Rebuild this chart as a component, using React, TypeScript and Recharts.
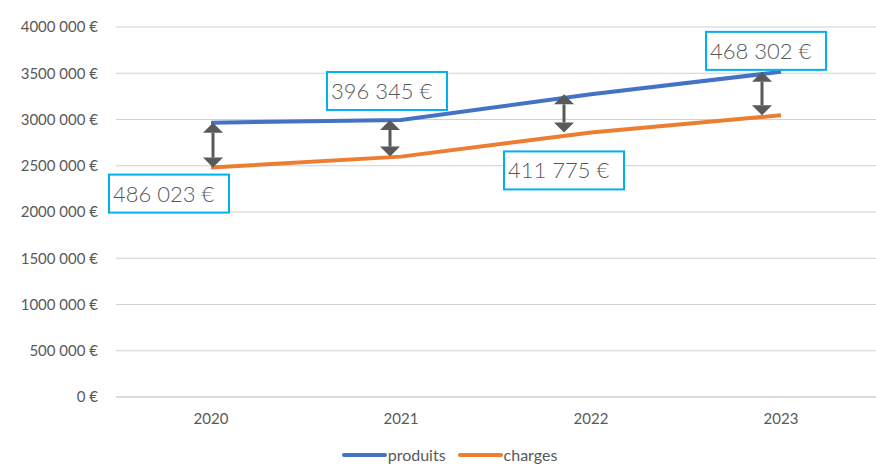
import {
  CartesianGrid,
  Legend,
  Line,
  LineChart,
  ReferenceDot,
  ReferenceLine,
  XAxis,
  YAxis,
} from "recharts";

const years = ["2020", "2021", "2022", "2023"];
const produits = [2966000, 2995000, 3272000, 3515000];
const charges = [2479977, 2598655, 2860225, 3046698];
const ecarts = [486023, 396345, 411775, 468302];
const yTicks = [0, 500000, 1000000, 1500000, 2000000, 2500000, 3000000, 3500000, 4000000];
const seriesOrder = ["produits", "charges"];

const data = years.map((year, i) => ({
  year,
  produits: produits[i],
  charges: charges[i],
}));

const TEXT = "#595959";
const GRID = "#D0D0D0";
const BLUE = "#4472C4";
const ORANGE = "#ED7D31";
const BOX = "#00B0F0";

// hand-placed like in the original workbook: label box side + nudge, arrow nudge
const labelPlacement = [
  { on: "charges", dx: -102, dy: 7 },
  { on: "produits", dx: -74, dy: -48 },
  { on: "charges", dx: -87, dy: 19 },
  { on: "produits", dx: -75, dy: -40 },
];
const arrowNudge = [2, -11, -27, -19];

const fmtAxis = (v: number) => (v === 0 ? "0 €" : `${v / 1000} 000 €`);
const fmtGap = (v: number) => v.toLocaleString("fr-FR").replace(/\s/g, " ") + " €";

function makeArrow(dx: number) {
  return (props: any) => {
    const { x1, y1, x2, y2 } = props;
    if (x1 == null || y1 == null) return null;
    const x = x1 + dx;
    const top = Math.min(y1, y2);
    const bot = Math.max(y1, y2);
    const hw = 10;
    const hh = 10;
    return (
      <g>
        <line x1={x} y1={top + hh} x2={x} y2={bot - hh} stroke={TEXT} strokeWidth={3} />
        <polygon points={`${x},${top} ${x - hw},${top + hh} ${x + hw},${top + hh}`} fill={TEXT} />
        <polygon points={`${x},${bot} ${x - hw},${bot - hh} ${x + hw},${bot - hh}`} fill={TEXT} />
      </g>
    );
  };
}

function makeBox(text: string, dx: number, dy: number) {
  return (props: any) => {
    const { cx, cy } = props;
    if (cx == null || cy == null) return null;
    const x = cx + dx;
    const y = cy + dy;
    return (
      <g>
        <rect x={x} y={y} width={120} height={38} fill="#fff" stroke={BOX} strokeWidth={2} />
        <text
          x={x + 4}
          y={y + 27}
          fill={TEXT}
          fontSize={22}
          fontFamily="Lato, sans-serif"
          fontWeight={300}
        >
          {text}
        </text>
      </g>
    );
  };
}

function LegendContent(props: any) {
  const items = [...(props.payload || [])].sort(
    (a: any, b: any) => seriesOrder.indexOf(a.value) - seriesOrder.indexOf(b.value)
  );
  return (
    <div
      style={{
        display: "flex",
        justifyContent: "center",
        paddingLeft: 35,
        fontFamily: "Lato, sans-serif",
        fontSize: 16,
        color: TEXT,
        lineHeight: "18px",
      }}
    >
      {items.map((it: any) => (
        <div key={it.value} style={{ display: "flex", alignItems: "center", marginRight: 12 }}>
          <span
            style={{
              display: "inline-block",
              width: 45,
              height: 4,
              borderRadius: 2,
              background: it.color,
              marginRight: 1,
            }}
          />
          <span>{it.value}</span>
        </div>
      ))}
    </div>
  );
}

export default function App() {
  return (
    <div style={{ position: "absolute", left: 0, top: 0, width: 876, height: 465, background: "#fff" }}>
      <LineChart
        width={876}
        height={465}
        data={data}
        margin={{ top: 27, right: 0, left: 0, bottom: 38 }}
      >
        <CartesianGrid vertical={false} stroke={GRID} strokeWidth={1.2} />
        <XAxis
          dataKey="year"
          height={30}
          padding={{ left: 95, right: 95 }}
          axisLine={{ stroke: GRID, strokeWidth: 1.2 }}
          tickLine={false}
          tickSize={0}
          tickMargin={16}
          tick={{ fill: TEXT, fontSize: 15, fontFamily: "Lato, sans-serif" }}
        />
        <YAxis
          width={116}
          domain={[0, 4000000]}
          ticks={yTicks}
          axisLine={false}
          tickLine={false}
          tickSize={0}
          tickMargin={18}
          tickFormatter={fmtAxis}
          tick={{ fill: TEXT, fontSize: 15, fontFamily: "Lato, sans-serif" }}
        />
        <Legend
          verticalAlign="middle"
          align="center"
          wrapperStyle={{ top: 446, left: 0, width: 876 }}
          content={<LegendContent />}
        />
        <Line
          dataKey="produits"
          name="produits"
          stroke={BLUE}
          strokeWidth={4}
          dot={false}
          type="linear"
          isAnimationActive={false}
        />
        <Line
          dataKey="charges"
          name="charges"
          stroke={ORANGE}
          strokeWidth={4}
          dot={false}
          type="linear"
          isAnimationActive={false}
        />
        {years.map((year, i) => (
          <ReferenceLine
            key={`arrow-${year}`}
            segment={[
              { x: year, y: produits[i] },
              { x: year, y: charges[i] },
            ]}
            shape={makeArrow(arrowNudge[i])}
          />
        ))}
        {years.map((year, i) => {
          const p = labelPlacement[i];
          return (
            <ReferenceDot
              key={`box-${year}`}
              x={year}
              y={p.on === "produits" ? produits[i] : charges[i]}
              shape={makeBox(fmtGap(ecarts[i]), p.dx, p.dy)}
            />
          );
        })}
      </LineChart>
    </div>
  );
}
